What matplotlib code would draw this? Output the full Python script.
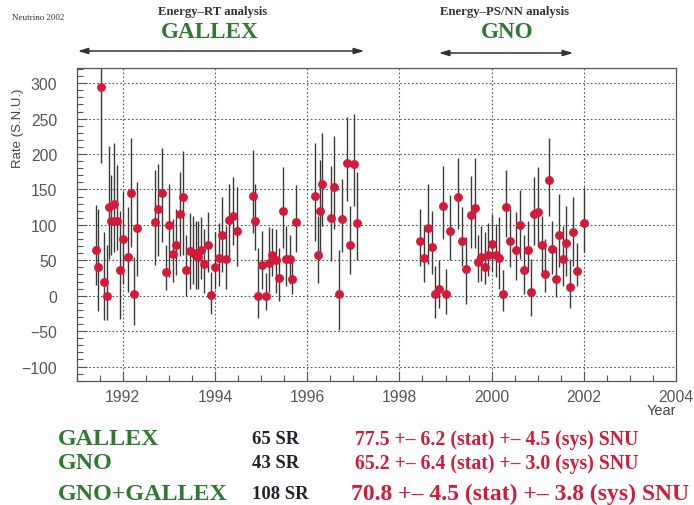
import matplotlib
matplotlib.use("Agg")
import matplotlib.pyplot as plt
from matplotlib.ticker import MultipleLocator
from matplotlib.patches import FancyArrowPatch

# ---------------- data ----------------
gallex_year = [1991.41, 1991.47, 1991.52, 1991.59, 1991.65, 1991.70, 1991.75, 1991.80, 1991.88, 1991.93,
               1992.01, 1992.12, 1992.17, 1992.24, 1992.31, 1992.69, 1992.76, 1992.84, 1992.93, 1993.00,
               1993.08, 1993.16, 1993.24, 1993.30, 1993.38, 1993.45, 1993.53, 1993.58, 1993.63, 1993.69,
               1993.76, 1993.85, 1993.92, 1994.00, 1994.08, 1994.15, 1994.23, 1994.30, 1994.38, 1994.47,
               1994.82, 1994.87, 1994.94, 1995.02, 1995.10, 1995.17, 1995.24, 1995.32, 1995.39, 1995.47,
               1995.53, 1995.62, 1995.68, 1995.75, 1996.16, 1996.23, 1996.28, 1996.33, 1996.52, 1996.58,
               1996.69, 1996.76, 1996.86, 1996.93, 1997.01, 1997.08]
gallex_rate = [64, 41, 294, 20, 0, 125, 106, 129, 105, 36,
               80, 55, 145, 2, 96, 104, 123, 145, 33, 100,
               59, 71, 115, 139, 36, 63, 60, 57, 55, 65,
               45, 72, 1, 40, 53, 86, 52, 107, 113, 91,
               141, 105, 0, 44, 0, 46, 57, 50, 25, 120,
               52, 52, 24, 104, 141, 58, 120, 157, 109, 153,
               2, 108, 188, 72, 186, 103]
gallex_err_hi = [64, 81, 106, 70, 71, 86, 64, 86, 79, 84,
                 68, 70, 77, 52, 65, 74, 63, 64, 38, 57,
                 49, 52, 59, 65, 49, 54, 53, 49, 50, 46,
                 49, 46, 32, 50, 50, 53, 47, 50, 54, 62,
                 64, 53, 67, 47, 32, 51, 38, 44, 43, 62,
                 47, 33, 31, 52, 75, 55, 71, 73, 74, 72,
                 62, 57, 64, 55, 71, 72]
gallex_err_lo = [49, 63, 106, 55, 35, 73, 49, 67, 41, 69,
                 64, 50, 76, 44, 68, 61, 67, 69, 25, 74,
                 40, 42, 59, 82, 36, 53, 43, 48, 45, 41,
                 41, 39, 27, 30, 40, 53, 42, 51, 42, 49,
                 52, 41, 32, 34, 20, 41, 29, 46, 32, 52,
                 38, 35, 21, 42, 64, 40, 68, 58, 60, 59,
                 51, 47, 54, 41, 59, 53]

gno_year = [1998.44, 1998.53, 1998.62, 1998.71, 1998.78, 1998.86, 1998.94, 1999.02, 1999.09, 1999.27,
            1999.36, 1999.45, 1999.55, 1999.63, 1999.70, 1999.78, 1999.86, 1999.93, 2000.01, 2000.09,
            2000.17, 2000.24, 2000.32, 2000.39, 2000.54, 2000.62, 2000.70, 2000.78, 2000.86, 2000.93,
            2001.01, 2001.09, 2001.15, 2001.24, 2001.32, 2001.39, 2001.47, 2001.55, 2001.62, 2001.70,
            2001.77, 2001.86, 2002.00]
gno_rate = [77, 53, 95, 69, 2, 9, 127, 2, 91, 139,
            77, 38, 114, 124, 48, 55, 41, 58, 73, 58,
            53, 2, 125, 77, 64, 100, 36, 65, 5, 116,
            118, 72, 31, 163, 66, 24, 86, 52, 74, 12,
            90, 35, 103]
gno_err_hi = [45, 46, 63, 51, 40, 42, 56, 35, 51, 56,
              48, 45, 55, 70, 38, 44, 49, 45, 42, 43,
              58, 34, 53, 45, 54, 49, 49, 40, 47, 52,
              63, 40, 49, 59, 39, 45, 57, 47, 52, 40,
              49, 40, 50]
gno_err_lo = [35, 34, 50, 39, 33, 26, 47, 28, 40, 45,
              35, 50, 46, 56, 29, 34, 25, 30, 38, 32,
              43, 24, 42, 37, 42, 48, 34, 32, 33, 45,
              49, 39, 26, 51, 35, 26, 46, 38, 46, 29,
              48, 21, 41]

result_names = ["GALLEX", "GNO", "GNO+GALLEX"]
result_runs = ["65 SR", "43 SR", "108 SR"]
result_values = ["77.5 +\u2013 6.2 (stat) +\u2013 4.5 (sys) SNU",
                 "65.2 +\u2013 6.4 (stat) +\u2013 3.0 (sys) SNU",
                 "70.8 +\u2013 4.5 (stat) +\u2013 3.8 (sys) SNU"]

# ---------------- figure ----------------
W, H = 694, 506
fig = plt.figure(figsize=(W / 100, H / 100), dpi=100)
fig.patch.set_facecolor("white")

def fx(px):
    return px / W

def fy(py):
    return 1 - py / H

ax = fig.add_axes([fx(76.7), fy(381.7), (676 - 76.7) / W, (381.7 - 69.3) / H])

red = "#d41a38"
green = "#2e7a2e"
ecol = "#3a3a3a"

for yr, rt, lo, hi in [(gallex_year, gallex_rate, gallex_err_lo, gallex_err_hi),
                       (gno_year, gno_rate, gno_err_lo, gno_err_hi)]:
    ax.errorbar(yr, rt, yerr=[lo, hi], fmt="none", ecolor=ecol, elinewidth=1.0, capsize=0, zorder=2)
    ax.plot(yr, rt, "o", color=red, markersize=6.4, markeredgewidth=0, zorder=3)

ax.set_xlim(1991, 2004)
ax.set_ylim(-120, 321)
ax.xaxis.set_major_locator(MultipleLocator(2))
ax.xaxis.set_minor_locator(MultipleLocator(0.5))
ax.yaxis.set_major_locator(MultipleLocator(50))
ax.yaxis.set_minor_locator(MultipleLocator(10))

ax.grid(True, which="major", linestyle=(0, (1.5, 2)), color="#555555", linewidth=0.8)
ax.tick_params(axis="both", which="major", direction="in", length=7, width=0.8, color="#555555",
               labelcolor="#555555", labelsize=11.3)
ax.tick_params(axis="both", which="minor", direction="in", length=4, width=0.8, color="#555555")
ax.tick_params(axis="y", which="major", pad=14)
ax.tick_params(axis="x", which="major", pad=6)
ax.set_xticks([1992, 1994, 1996, 1998, 2000, 2002, 2004])
ax.set_yticks([-100, -50, 0, 50, 100, 150, 200, 250, 300])
for lab in ax.get_xticklabels() + ax.get_yticklabels():
    lab.set_family("Liberation Sans")
for s in ax.spines.values():
    s.set_color("#555555")
    s.set_linewidth(0.9)

ax.text(-0.098, 0.81, "Rate (S.N.U.)", transform=ax.transAxes, rotation=90, ha="center", va="center",
        fontsize=9.5, color="#444444", family="Liberation Sans")
ax.text(1.0, -0.095, "Year", transform=ax.transAxes, ha="right", va="center",
        fontsize=10.5, color="#444444", family="Liberation Sans")

# ---------------- header ----------------
serif = "Liberation Serif"
fig.text(fx(12), fy(18), "Neutrino 2002", fontsize=6.5, family=serif, color="#333333", va="center", ha="left")
fig.text(fx(213), fy(12.5), "Energy\u2013RT analysis", fontsize=9.2, family=serif, weight="bold",
         color="#333333", ha="center", va="center")
fig.text(fx(210), fy(33), "GALLEX", fontsize=16.7, family=serif, weight="bold", color=green,
         ha="center", va="center")
fig.text(fx(505), fy(12.5), "Energy\u2013PS/NN analysis", fontsize=9.2, family=serif, weight="bold",
         color="#333333", ha="center", va="center")
fig.text(fx(507), fy(33), "GNO", fontsize=16.7, family=serif, weight="bold", color=green,
         ha="center", va="center")

for x0, x1, yy in [(75, 367, 52), (436, 576, 54)]:
    arr = FancyArrowPatch((fx(x0), fy(yy)), (fx(x1), fy(yy)), transform=fig.transFigure,
                          arrowstyle="<|-|>,head_length=0.6,head_width=0.18", mutation_scale=10,
                          color="#333333", linewidth=1.1)
    fig.add_artist(arr)

# ---------------- results ----------------
baselines = [445, 469, 500.5]
val_sizes = [14.2, 14.2, 17]
val_x = [355, 355, 351]
for i in range(3):
    fig.text(fx(58), fy(baselines[i]), result_names[i], fontsize=17.3, family=serif, weight="bold",
             color=green, ha="left", va="baseline")
    fig.text(fx(252), fy(baselines[i] - 1), result_runs[i], fontsize=13.5, family=serif, weight="bold",
             color="#22222e", ha="left", va="baseline")
    fig.text(fx(val_x[i]), fy(baselines[i]), result_values[i], fontsize=val_sizes[i], family=serif,
             weight="bold", color=red, ha="left", va="baseline")

fig.savefig("out.png", dpi=100, facecolor="white")
